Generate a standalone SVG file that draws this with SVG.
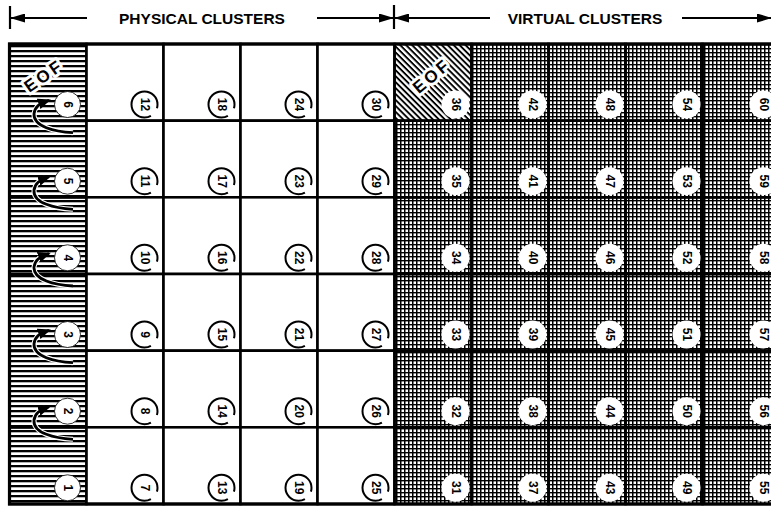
<svg xmlns="http://www.w3.org/2000/svg" width="771" height="512" viewBox="0 0 771 512">
<defs>
<pattern id="hatchH" patternUnits="userSpaceOnUse" width="8" height="5"><rect x="0" y="0" width="8" height="2.3" fill="#000"/></pattern>
<pattern id="diag" patternUnits="userSpaceOnUse" width="4.2" height="4.2" patternTransform="rotate(45)"><rect x="0" y="0" width="4.2" height="1.9" fill="#000"/></pattern>
<pattern id="cross" patternUnits="userSpaceOnUse" width="4" height="4"><rect x="0" y="0" width="1.5" height="4" fill="#000"/><rect x="0" y="0" width="4" height="1.4" fill="#000"/></pattern>
<marker id="ah" markerUnits="userSpaceOnUse" markerWidth="13" markerHeight="11" refX="11" refY="5.5" orient="auto"><path d="M0,0 L13,5.5 L0,11 z" fill="#000"/></marker>
<marker id="hh" markerUnits="userSpaceOnUse" markerWidth="15" markerHeight="9" refX="14" refY="4.5" orient="auto"><path d="M0,0 L15,4.5 L0,9 z" fill="#000"/></marker>
</defs>
<style>
.cell rect{stroke:#000;stroke-width:2.6}
.w{fill:#fff}
.h{fill:url(#hatchH)}
.v{fill:url(#cross)}
.d{fill:url(#diag)}
.ring{fill:#fff;stroke:#000;stroke-width:2;stroke-dasharray:72 9.7;stroke-dashoffset:-13.6}
.disc{fill:#fff;stroke:#000;stroke-width:0.8}
.vdisc{fill:#fff}
.num{font-family:"Liberation Sans",Arial,sans-serif;font-weight:bold;font-size:12px;text-anchor:middle;dominant-baseline:central;fill:#000}
.hdr{font-family:"Liberation Sans",Arial,sans-serif;font-weight:bold;font-size:15.5px;text-anchor:middle;fill:#000}
.eof{font-family:"Liberation Sans",Arial,sans-serif;font-weight:bold;text-anchor:middle;dominant-baseline:central;fill:#000;stroke:#fff;stroke-width:6;paint-order:stroke;stroke-linejoin:round;letter-spacing:3px}
.hl{stroke:#000;stroke-width:2.2;fill:none}
.halo{stroke:#fff;stroke-width:5;fill:none}
.conn{stroke:#000;stroke-width:2.8;fill:none}
</style>
<rect x="0" y="0" width="771" height="512" fill="#fff"/>
<g id="header">
<line class="hl" x1="10" y1="6" x2="10" y2="29"/>
<line class="hl" x1="87" y1="18" x2="11" y2="18" marker-end="url(#hh)"/>
<text class="hdr" x="202" y="24">PHYSICAL CLUSTERS</text>
<line class="hl" x1="317" y1="18" x2="393" y2="18" marker-end="url(#hh)"/>
<line class="hl" x1="394" y1="5" x2="394" y2="29"/>
<line class="hl" x1="490" y1="18" x2="395" y2="18" marker-end="url(#hh)"/>
<text class="hdr" x="585" y="24">VIRTUAL CLUSTERS</text>
<line class="hl" x1="682" y1="18" x2="771" y2="18" marker-end="url(#hh)"/>
</g>
<g id="nodes">
<g id="cell-6" class="cell"><rect class="h" x="9.5" y="44" width="77" height="76.7"/><text class="eof" font-size="17" x="44" y="76" transform="rotate(-35 44 76)">EOF</text><circle class="disc" cx="67.5" cy="104.5" r="13"/><text class="num" x="67.5" y="104.5" transform="rotate(90 67.5 104.5)">6</text></g>
<g id="cell-5" class="cell"><rect class="h" x="9.5" y="120.7" width="77" height="76.6"/><circle class="disc" cx="67.5" cy="181.2" r="13"/><text class="num" x="67.5" y="181.2" transform="rotate(90 67.5 181.2)">5</text></g>
<g id="cell-4" class="cell"><rect class="h" x="9.5" y="197.3" width="77" height="76.7"/><circle class="disc" cx="67.5" cy="257.8" r="13"/><text class="num" x="67.5" y="257.8" transform="rotate(90 67.5 257.8)">4</text></g>
<g id="cell-3" class="cell"><rect class="h" x="9.5" y="274" width="77" height="76.7"/><circle class="disc" cx="67.5" cy="334.5" r="13"/><text class="num" x="67.5" y="334.5" transform="rotate(90 67.5 334.5)">3</text></g>
<g id="cell-2" class="cell"><rect class="h" x="9.5" y="350.7" width="77" height="76.6"/><circle class="disc" cx="67.5" cy="411.2" r="13"/><text class="num" x="67.5" y="411.2" transform="rotate(90 67.5 411.2)">2</text></g>
<g id="cell-1" class="cell"><rect class="h" x="9.5" y="427.3" width="77" height="76.7"/><circle class="disc" cx="67.5" cy="487.8" r="13"/><text class="num" x="67.5" y="487.8" transform="rotate(90 67.5 487.8)">1</text></g>

<g id="cell-12" class="cell"><rect class="w" x="86.5" y="44" width="77" height="76.7"/><circle class="ring" cx="144.5" cy="104.5" r="13"/><text class="num" x="144.5" y="104.5" transform="rotate(90 144.5 104.5)">12</text></g>
<g id="cell-11" class="cell"><rect class="w" x="86.5" y="120.7" width="77" height="76.6"/><circle class="ring" cx="144.5" cy="181.2" r="13"/><text class="num" x="144.5" y="181.2" transform="rotate(90 144.5 181.2)">11</text></g>
<g id="cell-10" class="cell"><rect class="w" x="86.5" y="197.3" width="77" height="76.7"/><circle class="ring" cx="144.5" cy="257.8" r="13"/><text class="num" x="144.5" y="257.8" transform="rotate(90 144.5 257.8)">10</text></g>
<g id="cell-9" class="cell"><rect class="w" x="86.5" y="274" width="77" height="76.7"/><circle class="ring" cx="144.5" cy="334.5" r="13"/><text class="num" x="144.5" y="334.5" transform="rotate(90 144.5 334.5)">9</text></g>
<g id="cell-8" class="cell"><rect class="w" x="86.5" y="350.7" width="77" height="76.6"/><circle class="ring" cx="144.5" cy="411.2" r="13"/><text class="num" x="144.5" y="411.2" transform="rotate(90 144.5 411.2)">8</text></g>
<g id="cell-7" class="cell"><rect class="w" x="86.5" y="427.3" width="77" height="76.7"/><circle class="ring" cx="144.5" cy="487.8" r="13"/><text class="num" x="144.5" y="487.8" transform="rotate(90 144.5 487.8)">7</text></g>

<g id="cell-18" class="cell"><rect class="w" x="163.5" y="44" width="77" height="76.7"/><circle class="ring" cx="221.5" cy="104.5" r="13"/><text class="num" x="221.5" y="104.5" transform="rotate(90 221.5 104.5)">18</text></g>
<g id="cell-17" class="cell"><rect class="w" x="163.5" y="120.7" width="77" height="76.6"/><circle class="ring" cx="221.5" cy="181.2" r="13"/><text class="num" x="221.5" y="181.2" transform="rotate(90 221.5 181.2)">17</text></g>
<g id="cell-16" class="cell"><rect class="w" x="163.5" y="197.3" width="77" height="76.7"/><circle class="ring" cx="221.5" cy="257.8" r="13"/><text class="num" x="221.5" y="257.8" transform="rotate(90 221.5 257.8)">16</text></g>
<g id="cell-15" class="cell"><rect class="w" x="163.5" y="274" width="77" height="76.7"/><circle class="ring" cx="221.5" cy="334.5" r="13"/><text class="num" x="221.5" y="334.5" transform="rotate(90 221.5 334.5)">15</text></g>
<g id="cell-14" class="cell"><rect class="w" x="163.5" y="350.7" width="77" height="76.6"/><circle class="ring" cx="221.5" cy="411.2" r="13"/><text class="num" x="221.5" y="411.2" transform="rotate(90 221.5 411.2)">14</text></g>
<g id="cell-13" class="cell"><rect class="w" x="163.5" y="427.3" width="77" height="76.7"/><circle class="ring" cx="221.5" cy="487.8" r="13"/><text class="num" x="221.5" y="487.8" transform="rotate(90 221.5 487.8)">13</text></g>

<g id="cell-24" class="cell"><rect class="w" x="240.5" y="44" width="77" height="76.7"/><circle class="ring" cx="298.5" cy="104.5" r="13"/><text class="num" x="298.5" y="104.5" transform="rotate(90 298.5 104.5)">24</text></g>
<g id="cell-23" class="cell"><rect class="w" x="240.5" y="120.7" width="77" height="76.6"/><circle class="ring" cx="298.5" cy="181.2" r="13"/><text class="num" x="298.5" y="181.2" transform="rotate(90 298.5 181.2)">23</text></g>
<g id="cell-22" class="cell"><rect class="w" x="240.5" y="197.3" width="77" height="76.7"/><circle class="ring" cx="298.5" cy="257.8" r="13"/><text class="num" x="298.5" y="257.8" transform="rotate(90 298.5 257.8)">22</text></g>
<g id="cell-21" class="cell"><rect class="w" x="240.5" y="274" width="77" height="76.7"/><circle class="ring" cx="298.5" cy="334.5" r="13"/><text class="num" x="298.5" y="334.5" transform="rotate(90 298.5 334.5)">21</text></g>
<g id="cell-20" class="cell"><rect class="w" x="240.5" y="350.7" width="77" height="76.6"/><circle class="ring" cx="298.5" cy="411.2" r="13"/><text class="num" x="298.5" y="411.2" transform="rotate(90 298.5 411.2)">20</text></g>
<g id="cell-19" class="cell"><rect class="w" x="240.5" y="427.3" width="77" height="76.7"/><circle class="ring" cx="298.5" cy="487.8" r="13"/><text class="num" x="298.5" y="487.8" transform="rotate(90 298.5 487.8)">19</text></g>

<g id="cell-30" class="cell"><rect class="w" x="317.5" y="44" width="77" height="76.7"/><circle class="ring" cx="375.5" cy="104.5" r="13"/><text class="num" x="375.5" y="104.5" transform="rotate(90 375.5 104.5)">30</text></g>
<g id="cell-29" class="cell"><rect class="w" x="317.5" y="120.7" width="77" height="76.6"/><circle class="ring" cx="375.5" cy="181.2" r="13"/><text class="num" x="375.5" y="181.2" transform="rotate(90 375.5 181.2)">29</text></g>
<g id="cell-28" class="cell"><rect class="w" x="317.5" y="197.3" width="77" height="76.7"/><circle class="ring" cx="375.5" cy="257.8" r="13"/><text class="num" x="375.5" y="257.8" transform="rotate(90 375.5 257.8)">28</text></g>
<g id="cell-27" class="cell"><rect class="w" x="317.5" y="274" width="77" height="76.7"/><circle class="ring" cx="375.5" cy="334.5" r="13"/><text class="num" x="375.5" y="334.5" transform="rotate(90 375.5 334.5)">27</text></g>
<g id="cell-26" class="cell"><rect class="w" x="317.5" y="350.7" width="77" height="76.6"/><circle class="ring" cx="375.5" cy="411.2" r="13"/><text class="num" x="375.5" y="411.2" transform="rotate(90 375.5 411.2)">26</text></g>
<g id="cell-25" class="cell"><rect class="w" x="317.5" y="427.3" width="77" height="76.7"/><circle class="ring" cx="375.5" cy="487.8" r="13"/><text class="num" x="375.5" y="487.8" transform="rotate(90 375.5 487.8)">25</text></g>

<g id="cell-36" class="cell"><rect class="d" x="394.5" y="44" width="77" height="76.7"/><text class="eof" font-size="17" x="432" y="76" transform="rotate(-40 432 76)">EOF</text><circle class="vdisc" cx="455.5" cy="104.5" r="14"/><text class="num" x="455.5" y="104.5" transform="rotate(90 455.5 104.5)">36</text></g>
<g id="cell-35" class="cell"><rect class="v" x="394.5" y="120.7" width="77" height="76.6"/><circle class="vdisc" cx="455.5" cy="181.2" r="14"/><text class="num" x="455.5" y="181.2" transform="rotate(90 455.5 181.2)">35</text></g>
<g id="cell-34" class="cell"><rect class="v" x="394.5" y="197.3" width="77" height="76.7"/><circle class="vdisc" cx="455.5" cy="257.8" r="14"/><text class="num" x="455.5" y="257.8" transform="rotate(90 455.5 257.8)">34</text></g>
<g id="cell-33" class="cell"><rect class="v" x="394.5" y="274" width="77" height="76.7"/><circle class="vdisc" cx="455.5" cy="334.5" r="14"/><text class="num" x="455.5" y="334.5" transform="rotate(90 455.5 334.5)">33</text></g>
<g id="cell-32" class="cell"><rect class="v" x="394.5" y="350.7" width="77" height="76.6"/><circle class="vdisc" cx="455.5" cy="411.2" r="14"/><text class="num" x="455.5" y="411.2" transform="rotate(90 455.5 411.2)">32</text></g>
<g id="cell-31" class="cell"><rect class="v" x="394.5" y="427.3" width="77" height="76.7"/><circle class="vdisc" cx="455.5" cy="487.8" r="14"/><text class="num" x="455.5" y="487.8" transform="rotate(90 455.5 487.8)">31</text></g>

<g id="cell-42" class="cell"><rect class="v" x="471.5" y="44" width="77" height="76.7"/><circle class="vdisc" cx="532.5" cy="104.5" r="14"/><text class="num" x="532.5" y="104.5" transform="rotate(90 532.5 104.5)">42</text></g>
<g id="cell-41" class="cell"><rect class="v" x="471.5" y="120.7" width="77" height="76.6"/><circle class="vdisc" cx="532.5" cy="181.2" r="14"/><text class="num" x="532.5" y="181.2" transform="rotate(90 532.5 181.2)">41</text></g>
<g id="cell-40" class="cell"><rect class="v" x="471.5" y="197.3" width="77" height="76.7"/><circle class="vdisc" cx="532.5" cy="257.8" r="14"/><text class="num" x="532.5" y="257.8" transform="rotate(90 532.5 257.8)">40</text></g>
<g id="cell-39" class="cell"><rect class="v" x="471.5" y="274" width="77" height="76.7"/><circle class="vdisc" cx="532.5" cy="334.5" r="14"/><text class="num" x="532.5" y="334.5" transform="rotate(90 532.5 334.5)">39</text></g>
<g id="cell-38" class="cell"><rect class="v" x="471.5" y="350.7" width="77" height="76.6"/><circle class="vdisc" cx="532.5" cy="411.2" r="14"/><text class="num" x="532.5" y="411.2" transform="rotate(90 532.5 411.2)">38</text></g>
<g id="cell-37" class="cell"><rect class="v" x="471.5" y="427.3" width="77" height="76.7"/><circle class="vdisc" cx="532.5" cy="487.8" r="14"/><text class="num" x="532.5" y="487.8" transform="rotate(90 532.5 487.8)">37</text></g>

<g id="cell-48" class="cell"><rect class="v" x="548.5" y="44" width="77" height="76.7"/><circle class="vdisc" cx="609.5" cy="104.5" r="14"/><text class="num" x="609.5" y="104.5" transform="rotate(90 609.5 104.5)">48</text></g>
<g id="cell-47" class="cell"><rect class="v" x="548.5" y="120.7" width="77" height="76.6"/><circle class="vdisc" cx="609.5" cy="181.2" r="14"/><text class="num" x="609.5" y="181.2" transform="rotate(90 609.5 181.2)">47</text></g>
<g id="cell-46" class="cell"><rect class="v" x="548.5" y="197.3" width="77" height="76.7"/><circle class="vdisc" cx="609.5" cy="257.8" r="14"/><text class="num" x="609.5" y="257.8" transform="rotate(90 609.5 257.8)">46</text></g>
<g id="cell-45" class="cell"><rect class="v" x="548.5" y="274" width="77" height="76.7"/><circle class="vdisc" cx="609.5" cy="334.5" r="14"/><text class="num" x="609.5" y="334.5" transform="rotate(90 609.5 334.5)">45</text></g>
<g id="cell-44" class="cell"><rect class="v" x="548.5" y="350.7" width="77" height="76.6"/><circle class="vdisc" cx="609.5" cy="411.2" r="14"/><text class="num" x="609.5" y="411.2" transform="rotate(90 609.5 411.2)">44</text></g>
<g id="cell-43" class="cell"><rect class="v" x="548.5" y="427.3" width="77" height="76.7"/><circle class="vdisc" cx="609.5" cy="487.8" r="14"/><text class="num" x="609.5" y="487.8" transform="rotate(90 609.5 487.8)">43</text></g>

<g id="cell-54" class="cell"><rect class="v" x="625.5" y="44" width="77" height="76.7"/><circle class="vdisc" cx="686.5" cy="104.5" r="14"/><text class="num" x="686.5" y="104.5" transform="rotate(90 686.5 104.5)">54</text></g>
<g id="cell-53" class="cell"><rect class="v" x="625.5" y="120.7" width="77" height="76.6"/><circle class="vdisc" cx="686.5" cy="181.2" r="14"/><text class="num" x="686.5" y="181.2" transform="rotate(90 686.5 181.2)">53</text></g>
<g id="cell-52" class="cell"><rect class="v" x="625.5" y="197.3" width="77" height="76.7"/><circle class="vdisc" cx="686.5" cy="257.8" r="14"/><text class="num" x="686.5" y="257.8" transform="rotate(90 686.5 257.8)">52</text></g>
<g id="cell-51" class="cell"><rect class="v" x="625.5" y="274" width="77" height="76.7"/><circle class="vdisc" cx="686.5" cy="334.5" r="14"/><text class="num" x="686.5" y="334.5" transform="rotate(90 686.5 334.5)">51</text></g>
<g id="cell-50" class="cell"><rect class="v" x="625.5" y="350.7" width="77" height="76.6"/><circle class="vdisc" cx="686.5" cy="411.2" r="14"/><text class="num" x="686.5" y="411.2" transform="rotate(90 686.5 411.2)">50</text></g>
<g id="cell-49" class="cell"><rect class="v" x="625.5" y="427.3" width="77" height="76.7"/><circle class="vdisc" cx="686.5" cy="487.8" r="14"/><text class="num" x="686.5" y="487.8" transform="rotate(90 686.5 487.8)">49</text></g>

<g id="cell-60" class="cell"><rect class="v" x="702.5" y="44" width="77" height="76.7"/><circle class="vdisc" cx="763.5" cy="104.5" r="14"/><text class="num" x="763.5" y="104.5" transform="rotate(90 763.5 104.5)">60</text></g>
<g id="cell-59" class="cell"><rect class="v" x="702.5" y="120.7" width="77" height="76.6"/><circle class="vdisc" cx="763.5" cy="181.2" r="14"/><text class="num" x="763.5" y="181.2" transform="rotate(90 763.5 181.2)">59</text></g>
<g id="cell-58" class="cell"><rect class="v" x="702.5" y="197.3" width="77" height="76.7"/><circle class="vdisc" cx="763.5" cy="257.8" r="14"/><text class="num" x="763.5" y="257.8" transform="rotate(90 763.5 257.8)">58</text></g>
<g id="cell-57" class="cell"><rect class="v" x="702.5" y="274" width="77" height="76.7"/><circle class="vdisc" cx="763.5" cy="334.5" r="14"/><text class="num" x="763.5" y="334.5" transform="rotate(90 763.5 334.5)">57</text></g>
<g id="cell-56" class="cell"><rect class="v" x="702.5" y="350.7" width="77" height="76.6"/><circle class="vdisc" cx="763.5" cy="411.2" r="14"/><text class="num" x="763.5" y="411.2" transform="rotate(90 763.5 411.2)">56</text></g>
<g id="cell-55" class="cell"><rect class="v" x="702.5" y="427.3" width="77" height="76.7"/><circle class="vdisc" cx="763.5" cy="487.8" r="14"/><text class="num" x="763.5" y="487.8" transform="rotate(90 763.5 487.8)">55</text></g>
</g>
<rect x="9.5" y="44" width="780" height="460" fill="none" stroke="#000" stroke-width="3.2"/>
<g id="connectors">
<path class="halo" d="M73,132.7 C55,131.7 33,126.7 34,113.7 C35,106.7 39,103.7 45,101.5"/>
<path class="conn" d="M73,132.7 C55,131.7 33,126.7 34,113.7 C35,106.7 39,103.7 49,100.2" marker-end="url(#ah)"/>
<path class="halo" d="M73,209.3 C55,208.3 33,203.3 34,190.3 C35,183.3 39,180.3 45,178.1"/>
<path class="conn" d="M73,209.3 C55,208.3 33,203.3 34,190.3 C35,183.3 39,180.3 49,176.8" marker-end="url(#ah)"/>
<path class="halo" d="M73,286 C55,285 33,280 34,267 C35,260 39,257 45,254.8"/>
<path class="conn" d="M73,286 C55,285 33,280 34,267 C35,260 39,257 49,253.5" marker-end="url(#ah)"/>
<path class="halo" d="M73,362.7 C55,361.7 33,356.7 34,343.7 C35,336.7 39,333.7 45,331.5"/>
<path class="conn" d="M73,362.7 C55,361.7 33,356.7 34,343.7 C35,336.7 39,333.7 49,330.2" marker-end="url(#ah)"/>
<path class="halo" d="M73,439.3 C55,438.3 33,433.3 34,420.3 C35,413.3 39,410.3 45,408.1"/>
<path class="conn" d="M73,439.3 C55,438.3 33,433.3 34,420.3 C35,413.3 39,410.3 49,406.8" marker-end="url(#ah)"/>
</g>
</svg>
